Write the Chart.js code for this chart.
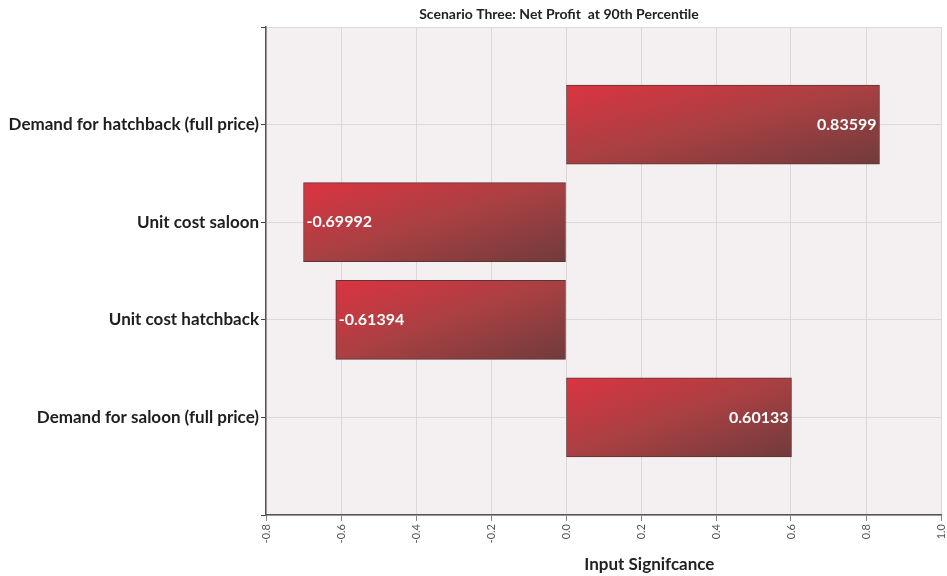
<!DOCTYPE html>
<html>
<head>
<meta charset="utf-8">
<script src="https://cdn.jsdelivr.net/npm/chart.js@4.4.1/dist/chart.umd.min.js"></script>
<style>
  html, body { margin: 0; padding: 0; background: #ffffff; }
  #wrap { width: 947px; height: 576px; position: relative; }
</style>
</head>
<body>
<div id="wrap"><canvas id="c" width="947" height="576"></canvas></div>
<script>
// Inputs ranked for the tornado chart (blank slots pad the top and bottom of the axis)
const categories = ['', 'Demand for hatchback (full price)', 'Unit cost saloon', 'Unit cost hatchback', 'Demand for saloon (full price)', ''];
const significance = [null, 0.83599, -0.69992, -0.61394, 0.60133, null];
const xTicks = [-0.8, -0.6, -0.4, -0.2, 0.0, 0.2, 0.4, 0.6, 0.8, 1.0];
const chartTitle = 'Scenario Three: Net Profit  at 90th Percentile';
const xAxisTitle = 'Input Signifcance';

const FONT = 'Lato, "Open Sans", sans-serif';
const BAR_THICKNESS = 79;

// Diagonal shading: bright red in the top-left corner, dark brown in the bottom-right,
// with colour bands running parallel to the bar's anti-diagonal.
function barGradient(ctx) {
  const chart = ctx.chart;
  const xs = chart.scales.x, ys = chart.scales.y;
  if (!chart.chartArea || !xs || !ys || ctx.raw == null) return '#b03a40';
  const a = xs.getPixelForValue(0), b = xs.getPixelForValue(ctx.raw);
  const l = Math.min(a, b), w = Math.abs(b - a);
  const h = BAR_THICKNESS;
  const t = ys.getPixelForValue(ctx.dataIndex) - h / 2;
  const s = (2 * w * h) / (w * w + h * h);
  const g = chart.ctx.createLinearGradient(l, t, l + s * h, t + s * w);
  g.addColorStop(0, '#db3440');
  g.addColorStop(0.5, '#a84043');
  g.addColorStop(1, '#713b3b');
  return g;
}

const plotBackground = {
  id: 'plotBackground',
  beforeDraw(chart) {
    const { ctx, chartArea: a } = chart;
    ctx.save();
    ctx.fillStyle = '#f4eff1';
    ctx.fillRect(a.left, a.top, a.right - a.left, a.bottom - a.top);
    ctx.restore();
  }
};

const valueLabels = {
  id: 'valueLabels',
  afterDatasetsDraw(chart) {
    const { ctx } = chart;
    const meta = chart.getDatasetMeta(0);
    ctx.save();
    ctx.font = 'bold 16px ' + FONT;
    ctx.fillStyle = '#ffffff';
    ctx.textBaseline = 'middle';
    meta.data.forEach((bar, i) => {
      const v = significance[i];
      if (v == null) return;
      const txt = v.toFixed(5);
      if (v >= 0) {
        ctx.textAlign = 'right';
        ctx.fillText(txt, bar.x - 3, bar.y);
      } else {
        ctx.textAlign = 'left';
        ctx.fillText(txt, bar.x + 3, bar.y);
      }
    });
    ctx.restore();
  }
};

const titles = {
  id: 'titles',
  afterDraw(chart) {
    const { ctx, chartArea: a } = chart;
    ctx.save();
    ctx.fillStyle = '#222222';
    ctx.textAlign = 'center';
    ctx.textBaseline = 'middle';
    ctx.font = 'bold 14px ' + FONT;
    ctx.fillText(chartTitle, chart.scales.x.getPixelForValue(0) - 7, 14);
    ctx.font = 'bold 17px ' + FONT;
    ctx.fillText(xAxisTitle, a.left + (a.right - a.left) * 0.568, 565);
    ctx.restore();
  }
};

new Chart(document.getElementById('c'), {
  type: 'bar',
  data: {
    labels: categories,
    datasets: [{
      data: significance,
      backgroundColor: barGradient,
      borderColor: '#5b3434',
      borderWidth: 1,
      borderSkipped: false,
      barThickness: BAR_THICKNESS
    }]
  },
  plugins: [plotBackground, valueLabels, titles],
  options: {
    indexAxis: 'y',
    responsive: false,
    animation: false,
    devicePixelRatio: 1,
    layout: { padding: { top: 27, right: 6, left: 0, bottom: 0 } },
    plugins: { legend: { display: false }, tooltip: { enabled: false }, title: { display: false } },
    scales: {
      x: {
        type: 'linear',
        min: -0.8,
        max: 1.0,
        afterBuildTicks(scale) { scale.ticks = xTicks.map(v => ({ value: v })); },
        afterFit(scale) { scale.height = 61; scale.paddingRight = 0; scale.paddingLeft = 0; },
        ticks: {
          minRotation: 90,
          maxRotation: 90,
          color: '#555555',
          font: { size: 11, family: FONT },
          padding: 3,
          callback: v => Number(v).toFixed(1)
        },
        grid: { color: '#dcd8da', lineWidth: 1, tickLength: 6, tickColor: '#888888', drawTicks: true },
        border: { color: '#555555', width: 1.5 }
      },
      y: {
        type: 'category',
        offset: false,
        afterFit(scale) { scale.width = 266; scale.paddingTop = 0; scale.paddingBottom = 0; },
        ticks: {
          color: '#1e1e1e',
          font: { size: 17, weight: 'bold', family: FONT },
          padding: 2,
          autoSkip: false
        },
        grid: { offset: false, color: '#dcd8da', lineWidth: 1, tickLength: 5, tickColor: '#444444' },
        border: { color: '#555555', width: 1.5 }
      }
    }
  }
});
</script>
</body>
</html>
